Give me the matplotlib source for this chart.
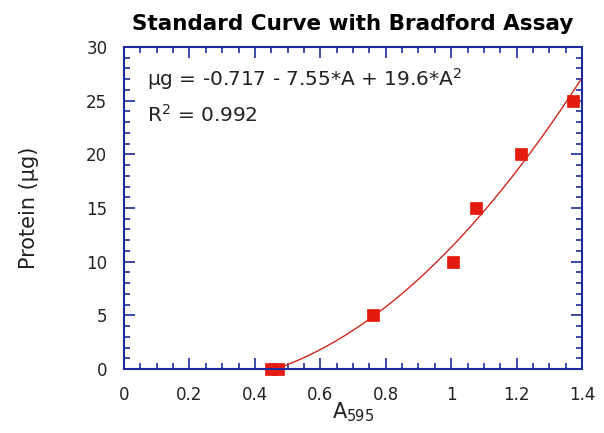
import numpy as np
import matplotlib.pyplot as plt
from matplotlib.ticker import MultipleLocator

# absorbance at 595 nm vs protein amount
absorbance = [0.45, 0.47, 0.76, 1.006, 1.076, 1.213, 1.372]
protein_ug = [0, 0, 5, 10, 15, 20, 25]

# quadratic fit shown on the chart: c0 + c1*A + c2*A^2
fit_coef = [-0.717, -7.55, 19.6]
r_squared = 0.992

x_ticks = [0, 0.2, 0.4, 0.6, 0.8, 1.0, 1.2, 1.4]
x_tick_labels = ["0", "0.2", "0.4", "0.6", "0.8", "1", "1.2", "1.4"]

plt.rcParams["font.family"] = ["DejaVu Sans"]
frame_color = "#1c2a9c"
red = "#e31a0d"
text_color = "#222222"

fig = plt.figure(figsize=(6.04, 4.33), dpi=100)
ax = fig.add_axes([124 / 604, 1 - 369 / 433, 458 / 604, 322 / 433])

a = np.linspace(min(absorbance), 1.4, 300)
fit = fit_coef[0] + fit_coef[1] * a + fit_coef[2] * a ** 2
ax.plot(a, fit, color="#d0281c", lw=1.0)
ax.plot(absorbance, protein_ug, "s", color=red, ms=8.5, mew=0.5,
        clip_on=False)

ax.set_xlim(0, 1.4)
ax.set_ylim(0, 30)
ax.set_xticks(x_ticks)
ax.set_xticklabels(x_tick_labels)
ax.xaxis.set_minor_locator(MultipleLocator(0.05))
ax.yaxis.set_major_locator(MultipleLocator(5))
ax.yaxis.set_minor_locator(MultipleLocator(1))

for side in ax.spines.values():
    side.set_color(frame_color)
    side.set_linewidth(1.5)
ax.tick_params(which="both", direction="in", top=True, right=True,
               color=frame_color, width=1.2, labelsize=12,
               labelcolor=text_color)
ax.tick_params(axis="x", pad=12)
ax.tick_params(axis="y", pad=12)
ax.tick_params(which="major", length=8)
ax.tick_params(which="minor", length=4)

ax.set_title("Standard Curve with Bradford Assay", fontsize=15.5,
             fontweight="bold", pad=12)
ax.set_ylabel("Protein (\u00b5g)", fontsize=15, labelpad=34,
              color=text_color)
ax.set_xlabel("A$_{595}$", fontsize=15, labelpad=-2, color=text_color)

eq = "\u00b5g = {:.3f} - {:.2f}*A + {:.1f}*A$^2$".format(
    fit_coef[0], -fit_coef[1], fit_coef[2])
ax.text(0.05, 0.9, eq, transform=ax.transAxes, fontsize=14.5, va="center",
        color=text_color)
ax.text(0.05, 0.79, "R$^2$ = {:.3f}".format(r_squared),
        transform=ax.transAxes, fontsize=14.5, va="center", color=text_color)

fig.savefig("out.png", dpi=100)
